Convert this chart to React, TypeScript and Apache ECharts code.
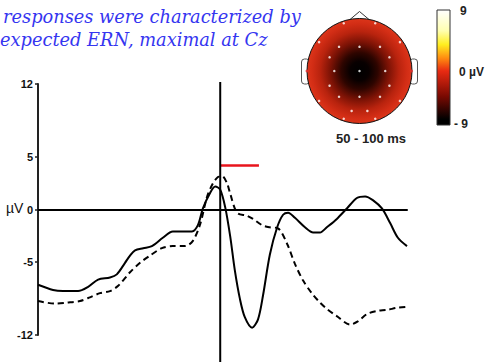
import { useEffect, useRef } from "react";
import * as echarts from "echarts";

// ERP waveform data (time in ms, amplitude in µV)
const solidTimes = [-400, -367, -345, -312, -290, -268, -242, -227, -209, -198, -187, -169, -150, -126, -104, -82, -62, -49, -38, -22, -11, 0, 11, 22, 32, 43, 54, 70, 83, 94, 109, 125, 138, 149, 164, 186, 204, 219, 234, 256, 278, 300, 318, 335, 355, 373, 390, 410];
const solidUV = [-7.2, -7.7, -7.8, -7.8, -7.4, -6.7, -6.5, -6.2, -5.1, -4.4, -3.9, -3.7, -3.5, -2.7, -2.1, -2.1, -2.1, -1.5, 0.1, 1.6, 2.2, 1.9, 0.2, -2.6, -5.8, -8.5, -10.3, -11.3, -10.5, -8.2, -4.3, -1.7, -0.5, -0.3, -0.8, -1.7, -2.2, -2.2, -1.7, -0.9, 0.1, 1.1, 1.25, 0.9, 0.1, -1.3, -2.7, -3.5];

const dashedTimes = [-400, -363, -336, -308, -286, -264, -242, -224, -198, -176, -154, -128, -104, -77, -60, -44, -29, -16, -5, 4, 15, 22, 37, 59, 72, 92, 109, 127, 147, 164, 182, 201, 219, 234, 256, 285, 302, 322, 344, 366, 388, 410];
const dashedUV = [-8.75, -9.0, -8.9, -8.75, -8.4, -8.0, -7.8, -7.3, -6.0, -5.1, -4.4, -3.7, -3.5, -3.5, -3.0, -1.4, 1.2, 2.5, 3.1, 3.2, 2.5, 1.5, -0.3, -0.6, -0.9, -1.5, -1.7, -1.8, -3.3, -5.2, -6.8, -8.0, -8.9, -9.5, -10.2, -11.0, -10.7, -10.0, -9.7, -9.6, -9.4, -9.3];

const windowTimes = [0, 85];
const windowLevel = 4.2;

const yTicks = [-12, -5, 0, 5, 12];
const xRange = [-400, 410];

// Electrode positions on the scalp map (normalised head coordinates)
const electrodesInner: [number, number][] = [
  [-0.3, 0.91], [0.3, 0.91], [-0.77, 0.55], [0.77, 0.55],
  [-0.39, 0.46], [0, 0.46], [0.39, 0.46], [-0.57, 0.26], [0.57, 0.26],
  [-0.48, 0], [0, 0], [0.49, 0],
  [-0.57, -0.28], [0.57, -0.28], [-0.39, -0.49], [0, -0.49], [0.39, -0.49],
  [-0.77, -0.57], [0.77, -0.57], [-0.15, -0.76], [0.15, -0.76],
  [-0.3, -0.91], [0.3, -0.91],
];
const electrodesEdge: [number, number][] = [[-1, 0], [0.99, 0]];

const titleLines = ["responses were characterized by", "expected ERN, maximal at Cz"];
const mapWindowLabel = "50 - 100 ms";
const colorbarLabels = ["9", "0 µV", "- 9"];

const zip = (a: number[], b: number[]) => a.map((v, i) => [v, b[i]]);

export default function App() {
  const ref = useRef<HTMLDivElement>(null);
  useEffect(() => {
    document.body.style.margin = "0";
    const chart = echarts.init(ref.current!, null, { renderer: "svg" });
    const labelFont = { fontFamily: "Liberation Sans, Arial, sans-serif", fontWeight: "bold" as const };
    chart.setOption({
      animation: false,
      backgroundColor: "#ffffff",
      grid: [
        { left: 38, top: 84, width: 369, height: 251 },
        { left: 307, top: 18.5, width: 105, height: 105 },
      ],
      xAxis: [
        {
          gridIndex: 0, type: "value", min: xRange[0], max: xRange[1],
          axisLine: { show: true, onZero: true, lineStyle: { color: "#000", width: 2 } },
          axisTick: { show: false }, axisLabel: { show: false }, splitLine: { show: false },
        },
        { gridIndex: 1, type: "value", min: -1, max: 1, show: false },
      ],
      yAxis: [
        {
          gridIndex: 0, type: "value", min: -12, max: 12,
          axisLine: { show: true, onZero: false, lineStyle: { color: "#222", width: 2 } },
          axisTick: { show: true, length: 3, customValues: yTicks, lineStyle: { color: "#222", width: 1.5 } },
          axisLabel: { customValues: yTicks, margin: 5, fontSize: 11, color: "#111", ...labelFont },
          splitLine: { show: false },
        },
        { gridIndex: 1, type: "value", min: -1, max: 1, show: false },
      ],
      series: [
        {
          type: "line", xAxisIndex: 0, yAxisIndex: 0, data: zip(solidTimes, solidUV),
          showSymbol: false, smooth: 0.3, lineStyle: { color: "#000", width: 2 }, z: 3,
        },
        {
          type: "line", xAxisIndex: 0, yAxisIndex: 0, data: zip(dashedTimes, dashedUV),
          showSymbol: false, smooth: 0.3, lineStyle: { color: "#000", width: 2, type: [6, 4] }, z: 3,
        },
        {
          type: "line", xAxisIndex: 0, yAxisIndex: 0, data: windowTimes.map((t) => [t, windowLevel]),
          showSymbol: false, lineStyle: { color: "#e8141c", width: 2.5 }, z: 4,
        },
        {
          type: "scatter", xAxisIndex: 1, yAxisIndex: 1, data: electrodesInner, clip: false,
          symbolSize: 2.5, itemStyle: { color: "#ffffff" }, z: 10,
        },
        {
          type: "scatter", xAxisIndex: 1, yAxisIndex: 1, data: electrodesEdge, clip: false,
          symbolSize: 3, itemStyle: { color: "#e83030" }, z: 10,
        },
      ],
    });

    const x0 = chart.convertToPixel({ xAxisIndex: 0 }, 0) as number;
    const yTop = chart.convertToPixel({ yAxisIndex: 0 }, 12) as number;
    const c = chart.convertToPixel({ gridIndex: 1 }, [0, 0]) as number[];
    const edge = chart.convertToPixel({ gridIndex: 1 }, [1, 0]) as number[];
    const r = edge[0] - c[0];
    const cx = c[0], cy = c[1];

    const cbX = 437, cbY = 10, cbW = 13, cbH = 115;
    const titleFont = 'italic 17.8px "DejaVu Serif", serif';

    chart.setOption({
      graphic: [
        {
          type: "text", left: 3, top: 7, z: 20,
          style: { text: titleLines[0], fill: "#3535f0", font: titleFont },
        },
        {
          type: "text", left: 0, top: 30, z: 20,
          style: { text: titleLines[1], fill: "#3535f0", font: titleFont },
        },
        {
          type: "text", x: 6, y: 208, z: 20,
          style: { text: "µV", fill: "#111", font: '14px "Liberation Sans", Arial, sans-serif', verticalAlign: "middle", align: "left" },
        },
        {
          type: "line", z: 5,
          shape: { x1: x0, y1: yTop - 2, x2: x0, y2: 362 },
          style: { stroke: "#000", lineWidth: 2 },
        },
        // ears
        {
          type: "rect", z: 1, shape: { x: cx - r - 5.5, y: cy - 12, width: 8, height: 25, r: 3 },
          style: { fill: "#fff", stroke: "#555", lineWidth: 1 },
        },
        {
          type: "rect", z: 1, shape: { x: cx + r - 2.5, y: cy - 12, width: 8, height: 25, r: 3 },
          style: { fill: "#fff", stroke: "#555", lineWidth: 1 },
        },
        // nose
        {
          type: "polyline", z: 1,
          shape: { points: [[cx - 9.5, cy - r + 1], [cx, cy - r - 7], [cx + 9.5, cy - r + 1]] },
          style: { stroke: "#333", lineWidth: 1, fill: "#fff" },
        },
        // scalp map
        {
          type: "circle", z: 2, shape: { cx, cy, r },
          style: {
            stroke: "#111", lineWidth: 1,
            fill: {
              type: "radial", x: 0.5, y: 0.5, r: 0.5,
              colorStops: [
                { offset: 0, color: "#000000" },
                { offset: 0.18, color: "#080000" },
                { offset: 0.35, color: "#2e0500" },
                { offset: 0.55, color: "#7a1205" },
                { offset: 0.75, color: "#b8230e" },
                { offset: 0.9, color: "#d22d15" },
                { offset: 1, color: "#dc351a" },
              ],
            },
          },
        },
        {
          type: "text", x: 371, y: 138, z: 20,
          style: { text: mapWindowLabel, fill: "#222", font: 'bold 13px "Liberation Sans", Arial, sans-serif', align: "center", verticalAlign: "middle" },
        },
        // colour bar
        {
          type: "rect", z: 2, shape: { x: cbX, y: cbY, width: cbW, height: cbH },
          style: {
            stroke: "#333", lineWidth: 1,
            fill: {
              type: "linear", x: 0, y: 0, x2: 0, y2: 1,
              colorStops: [
                { offset: 0, color: "#ffffff" },
                { offset: 0.18, color: "#ffffb0" },
                { offset: 0.3, color: "#ffee20" },
                { offset: 0.42, color: "#ff8a10" },
                { offset: 0.53, color: "#e82a12" },
                { offset: 0.75, color: "#7a0a02" },
                { offset: 0.95, color: "#000000" },
                { offset: 1, color: "#000000" },
              ],
            },
          },
        },
        {
          type: "text", x: 460, y: 11, z: 20,
          style: { text: colorbarLabels[0], fill: "#222", font: 'bold 12px "Liberation Sans", Arial, sans-serif', verticalAlign: "middle" },
        },
        {
          type: "text", x: 459, y: 72, z: 20,
          style: { text: colorbarLabels[1], fill: "#222", font: 'bold 12px "Liberation Sans", Arial, sans-serif', verticalAlign: "middle" },
        },
        {
          type: "text", x: 454, y: 124, z: 20,
          style: { text: colorbarLabels[2], fill: "#222", font: 'bold 12px "Liberation Sans", Arial, sans-serif', verticalAlign: "middle" },
        },
      ],
    });
    return () => chart.dispose();
  }, []);
  return (
    <div
      ref={ref}
      style={{ position: "absolute", left: 0, top: 0, width: 489, height: 362, background: "#fff" }}
    />
  );
}
